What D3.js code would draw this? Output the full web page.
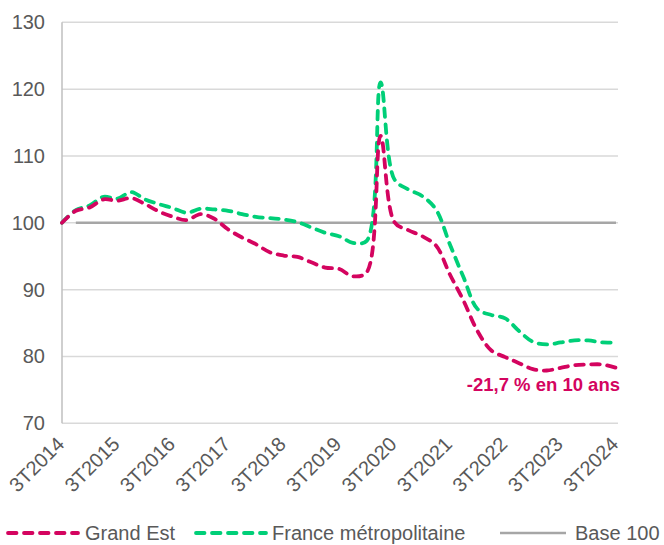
<!DOCTYPE html>
<html>
<head>
<meta charset="utf-8">
<script src="https://cdn.jsdelivr.net/npm/d3@7"></script>
<style>
  html, body { margin: 0; padding: 0; background: #fff; }
  svg { display: block; }
  text { font-family: "Liberation Sans", Arial, sans-serif; }
</style>
</head>
<body>
<svg id="chart" width="664" height="545"></svg>
<script>
// ---- Data ----
const quarters = [
  "3T2014","4T2014","1T2015","2T2015","3T2015","4T2015","1T2016","2T2016",
  "3T2016","4T2016","1T2017","2T2017","3T2017","4T2017","1T2018","2T2018",
  "3T2018","4T2018","1T2019","2T2019","3T2019","4T2019","1T2020","2T2020",
  "3T2020","4T2020","1T2021","2T2021","3T2021","4T2021","1T2022","2T2022",
  "3T2022","4T2022","1T2023","2T2023","3T2023","4T2023","1T2024","2T2024",
  "3T2024"
];
const grandEst = [
  100.0, 101.8, 102.3, 103.5, 103.3, 103.7, 102.8, 101.7,
  100.9, 100.4, 101.3, 100.6, 99.0, 97.8, 96.8, 95.6,
  95.1, 94.9, 94.1, 93.3, 93.1, 92.0, 92.6, 113.0,
  100.1, 98.9, 98.0, 96.6, 92.3, 88.3, 83.8, 80.9,
  79.9, 79.0, 78.1, 77.9, 78.3, 78.7, 78.8, 78.8,
  78.3
];
const franceMetro = [
  100.0, 101.9, 102.6, 103.9, 103.6, 104.6, 103.5, 102.8,
  102.2, 101.5, 102.1, 102.0, 101.8, 101.3, 100.9, 100.7,
  100.5, 100.1, 99.3, 98.5, 98.0, 97.0, 97.3, 121.0,
  106.5, 105.0, 104.0, 102.0, 96.8, 91.8, 87.1, 86.2,
  85.7, 83.8, 82.2, 81.8, 82.1, 82.4, 82.4, 82.1,
  82.1
];
const baseValue = 100;
const baseStart = "4T2014";
const yTicks = [70, 80, 90, 100, 110, 120, 130];
const xTickLabels = ["3T2014","3T2015","3T2016","3T2017","3T2018","3T2019","3T2020","3T2021","3T2022","3T2023","3T2024"];
const seriesNames = ["Grand Est", "France métropolitaine", "Base 100"];
const annotation = "-21,7 % en 10 ans";

// ---- Layout ----
const colors = { ge: "#d4045f", fr: "#00cf78", base: "#a6a6a6", grid: "#d9d9d9", axis: "#bfbfbf", text: "#595959" };
const svg = d3.select("#chart");
const plot = { left: 62, right: 616, top: 22.3, bottom: 423.3 };

const x = d3.scalePoint().domain(quarters).range([plot.left, plot.right]);
const y = d3.scaleLinear().domain([70, 130]).range([plot.bottom, plot.top]);

// grid
svg.append("g").selectAll("line").data(yTicks).join("line")
  .attr("x1", plot.left).attr("x2", plot.right + 2)
  .attr("y1", d => y(d)).attr("y2", d => y(d))
  .attr("stroke", colors.grid).attr("stroke-width", 1.5);

// left axis line
svg.append("line")
  .attr("x1", plot.left).attr("x2", plot.left)
  .attr("y1", plot.top).attr("y2", plot.bottom)
  .attr("stroke", colors.axis).attr("stroke-width", 1.5);

// y axis labels
const yAxis = d3.axisLeft(y).tickValues(yTicks).tickSize(0).tickPadding(17);
const gy = svg.append("g").attr("transform", `translate(${plot.left},0)`).call(yAxis);
gy.select(".domain").remove();
gy.selectAll("text").attr("fill", colors.text).attr("font-size", 20)
  .attr("font-family", "Liberation Sans, Arial, sans-serif");

// x axis labels
const xAxis = d3.axisBottom(x).tickValues(xTickLabels).tickSize(0).tickPadding(0);
const gx = svg.append("g").attr("transform", `translate(0,${plot.bottom})`).call(xAxis);
gx.select(".domain").remove();
gx.selectAll("text")
  .attr("fill", colors.text).attr("font-size", 20)
  .attr("font-family", "Liberation Sans, Arial, sans-serif")
  .attr("text-anchor", "end")
  .attr("dy", 0)
  .attr("transform", "translate(3,22) rotate(-45)");

// base 100 line
svg.append("line")
  .attr("x1", x(baseStart)).attr("x2", x(quarters[quarters.length - 1]))
  .attr("y1", y(baseValue)).attr("y2", y(baseValue))
  .attr("stroke", colors.base).attr("stroke-width", 2.5);

// series
const line = d3.line()
  .x((d, i) => x(quarters[i]))
  .y(d => y(d))
  .curve(d3.curveCatmullRom.alpha(0.5));

svg.append("path").datum(franceMetro)
  .attr("d", line).attr("fill", "none")
  .attr("stroke", colors.fr).attr("stroke-width", 3.8)
  .attr("stroke-dasharray", "8.5,7.5").attr("stroke-linecap", "round");

svg.append("path").datum(grandEst)
  .attr("d", line).attr("fill", "none")
  .attr("stroke", colors.ge).attr("stroke-width", 3.8)
  .attr("stroke-dasharray", "8.5,7.5").attr("stroke-linecap", "round");

// annotation
svg.append("text")
  .attr("x", 620).attr("y", 391)
  .attr("text-anchor", "end")
  .attr("font-size", 18.5).attr("font-weight", "bold")
  .attr("fill", colors.ge)
  .text(annotation);

// legend
const legendY = 533;
const legend = [
  { name: seriesNames[0], color: colors.ge, dash: true, x1: 8, x2: 78, tx: 85 },
  { name: seriesNames[1], color: colors.fr, dash: true, x1: 196, x2: 266, tx: 272 },
  { name: seriesNames[2], color: colors.base, dash: false, x1: 500, x2: 566, tx: 575 }
];
const lg = svg.append("g");
legend.forEach(l => {
  lg.append("line")
    .attr("x1", l.x1).attr("x2", l.x2).attr("y1", legendY).attr("y2", legendY)
    .attr("stroke", l.color)
    .attr("stroke-width", l.dash ? 3.8 : 2.5)
    .attr("stroke-dasharray", l.dash ? "8.5,7.5" : null)
    .attr("stroke-linecap", l.dash ? "round" : "butt");
  lg.append("text")
    .attr("x", l.tx).attr("y", legendY + 7)
    .attr("font-size", 20).attr("fill", colors.text)
    .text(l.name);
});
</script>
</body>
</html>
